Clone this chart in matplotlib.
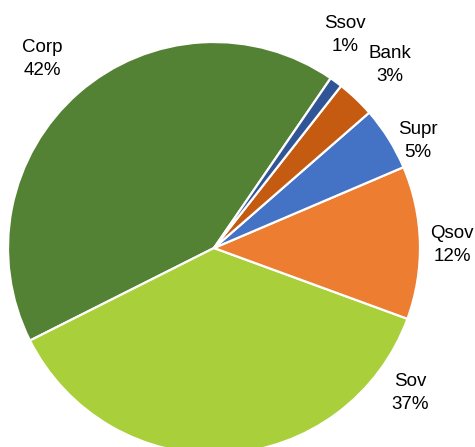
import matplotlib
matplotlib.use("Agg")
import matplotlib.pyplot as plt

categories = ["Corp", "Sov", "Qsov", "Supr", "Bank", "Ssov"]
shares = [42, 37, 12, 5, 3, 1]
colors = ["#548235", "#A9CF3B", "#ED7D31", "#4472C4", "#C55A11", "#2F5597"]
label_xy = [(42, 59), (410, 393), (452, 245), (418, 141), (390, 65), (345, 35)]

W, H = 475, 447
cx, cy, r = 214, 248, 206

fig = plt.figure(figsize=(W / 100, H / 100), dpi=100)
ax = fig.add_axes([0, 0, 1, 1])

ax.pie(shares, colors=colors, startangle=55.5, counterclock=True,
       radius=r, center=(0, 0),
       wedgeprops=dict(edgecolor="white", linewidth=1.6))

ax.set_xlim(-cx, W - cx)
ax.set_ylim(cy - H, cy)
ax.set_aspect("equal")
ax.axis("off")

for name, val, (px, py) in zip(categories, shares, label_xy):
    ax.text(px - cx, cy - py, f"{name}\n{val}%", ha="center", va="center",
            fontsize=13.5, family=["Liberation Sans", "DejaVu Sans"],
            color="black", linespacing=1.45)

fig.savefig("out.png", dpi=100)
